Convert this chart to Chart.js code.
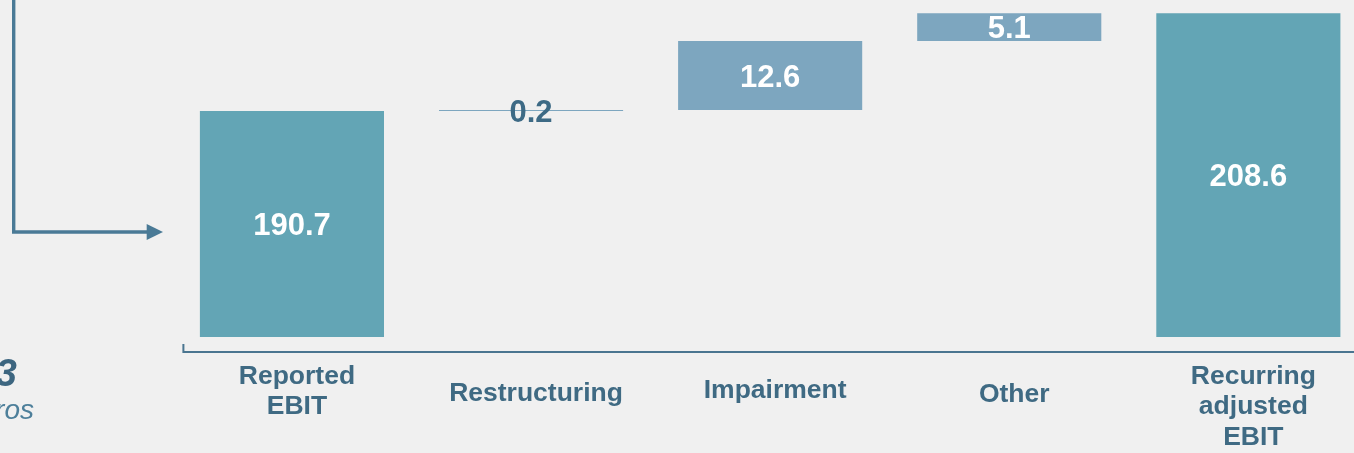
<!DOCTYPE html>
<html>
<head>
<meta charset="utf-8">
<script src="https://cdn.jsdelivr.net/npm/chart.js@4.4.1/dist/chart.umd.min.js"></script>
<style>
  html, body { margin: 0; padding: 0; background: #f0f0f0; overflow: hidden; width: 1354px; height: 453px; }
  #wrap { position: absolute; left: 0; top: 0; width: 1380px; height: 453px; }
  .side { position: absolute; white-space: nowrap; text-align: right; font-family: "Liberation Sans", Arial, sans-serif; }
</style>
</head>
<body>
<div id="wrap"><canvas id="bridge" width="1380" height="453"></canvas></div>

<svg width="200" height="260" style="position:absolute;left:0;top:0">
  <polyline points="13.7,0 13.7,232 149,232" fill="none" stroke="#4a7a96" stroke-width="3.4"/>
  <polygon points="146.7,224 163,232 146.7,240" fill="#4a7a96"/>
</svg>
<div class="side" style="left:-400px;width:417px;top:354px;font-weight:bold;font-style:italic;font-size:38px;line-height:38px;color:#3d6680">2023</div>
<div class="side" style="left:-400px;width:434px;top:396px;font-style:italic;font-size:28px;line-height:28px;color:#4d7f9a">In millions of euros</div>

<script>
// bridge from reported to recurring EBIT, in millions of euros
const categories = [["Reported", "EBIT"], "Restructuring", "Impairment", "Other", ["Recurring", "adjusted", "EBIT"]];
const values = [190.7, 0.2, 12.6, 5.1, 208.6];
const isTotal = [true, false, false, false, true];

// visible window of the value axis (the chart's baseline is broken)
const yMin = 149.4;
const yMax = 211.0;

// totals stand on zero, steps float on the running sum
let run = 0;
const ranges = values.map((v, i) => {
  if (isTotal[i]) { run = v; return [0, v]; }
  const r = [run, run + v];
  run += v;
  return r;
});

const FONT = '"Liberation Sans", Arial, sans-serif';
const TEXT = "#3f6a83";

// single-line labels sit lower, like the original text boxes
const tickLineHeight = [1.16, 2.5, 2.22, 2.56, 1.16];

const valueLabels = {
  id: "valueLabels",
  afterDatasetsDraw(chart) {
    const { ctx, chartArea } = chart;
    const meta = chart.getDatasetMeta(0);
    const size = 31;
    ctx.save();
    ctx.font = "bold " + size + "px " + FONT;
    ctx.textAlign = "center";
    ctx.textBaseline = "alphabetic";
    meta.data.forEach((bar, i) => {
      const { x, y, base } = bar.getProps(["x", "y", "base"], true);
      const top = Math.max(Math.min(y, base), chartArea.top);
      const bottom = Math.min(Math.max(y, base), chartArea.bottom);
      ctx.fillStyle = bottom - top > 10 ? "#ffffff" : "#3d6a85";
      // put the digits' middle on the bar's middle
      ctx.fillText(values[i].toFixed(1), x, (top + bottom) / 2 + size * 0.36);
    });
    ctx.restore();
  }
};

const baseLine = {
  id: "baseLine",
  afterDraw(chart) {
    const { ctx, chartArea, width } = chart;
    const y = chartArea.bottom + 15;
    const x0 = chartArea.left + 11;
    ctx.save();
    ctx.strokeStyle = "#4a7590";
    ctx.lineWidth = 2;
    ctx.beginPath();
    ctx.moveTo(x0, y - 8);
    ctx.lineTo(x0, y);
    ctx.lineTo(width, y);
    ctx.stroke();
    ctx.restore();
  }
};

new Chart(document.getElementById("bridge"), {
  type: "bar",
  data: {
    labels: categories,
    datasets: [{
      data: ranges,
      backgroundColor: isTotal.map(t => t ? "#63a5b5" : "#7da6bf"),
      borderWidth: 0,
      barPercentage: 0.77,
      categoryPercentage: 1,
      clip: 0
    }]
  },
  options: {
    responsive: false,
    animation: false,
    layout: { padding: { left: 172.4, right: 12.1, top: 0, bottom: 0 } },
    plugins: { legend: { display: false }, tooltip: { enabled: false } },
    scales: {
      y: { display: false, min: yMin, max: yMax },
      x: {
        grid: { display: false, drawTicks: false },
        border: { display: false },
        afterFit: s => { s.height = 116; },
        ticks: {
          color: TEXT,
          padding: 24,
          labelOffset: 5,
          maxRotation: 0,
          autoSkip: false,
          font: ctx => ({ family: FONT, size: 26.5, weight: "bold", lineHeight: tickLineHeight[ctx.index] })
        }
      }
    }
  },
  plugins: [valueLabels, baseLine]
});
</script>
</body>
</html>
